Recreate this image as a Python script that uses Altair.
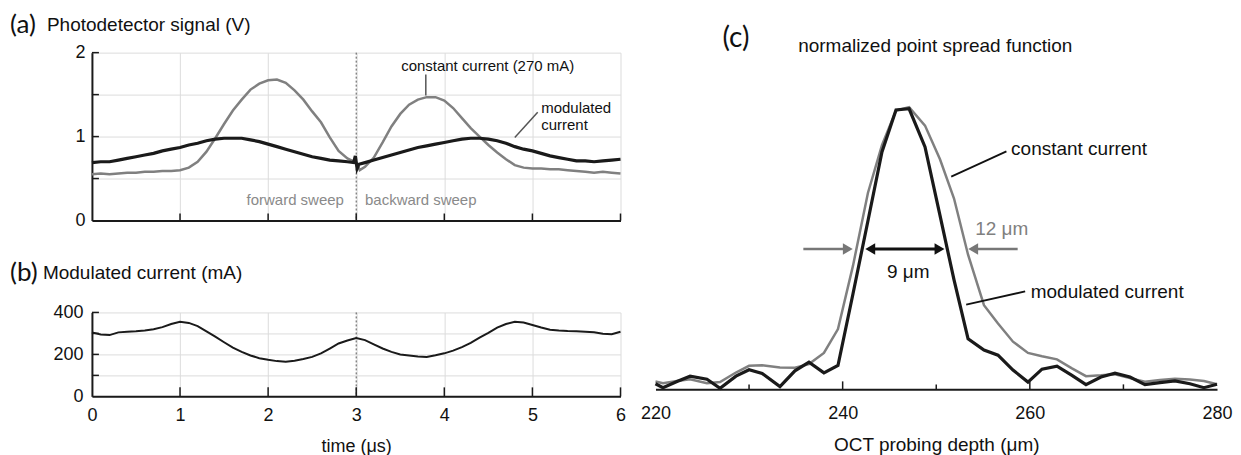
import altair as alt
import pandas as pd

FONT = "Liberation Sans"
PFONT = "Lato"

# ---------------- Panel (a): photodetector signal (V) ----------------
time_const = [0.0, 0.1, 0.2, 0.3, 0.4, 0.5, 0.6, 0.7, 0.8, 0.9, 1.0, 1.1, 1.2, 1.3, 1.4, 1.5,
              1.6, 1.7, 1.8, 1.9, 2.0, 2.1, 2.2, 2.3, 2.4, 2.5, 2.6, 2.7, 2.8, 2.9, 3.0, 3.04,
              3.1, 3.2, 3.3, 3.4, 3.5, 3.6, 3.7, 3.8, 3.9, 4.0, 4.1, 4.2, 4.3, 4.4, 4.5, 4.6,
              4.7, 4.8, 4.9, 5.0, 5.1, 5.2, 5.3, 5.4, 5.5, 5.6, 5.7, 5.8, 5.9, 6.0]
volt_const = [0.55, 0.56, 0.55, 0.56, 0.57, 0.57, 0.58, 0.58, 0.59, 0.59, 0.60, 0.63, 0.70, 0.82, 0.98, 1.15,
              1.31, 1.44, 1.56, 1.63, 1.67, 1.68, 1.64, 1.55, 1.44, 1.30, 1.17, 0.99, 0.83, 0.74, 0.69, 0.60,
              0.64, 0.75, 0.93, 1.12, 1.27, 1.38, 1.44, 1.47, 1.47, 1.43, 1.34, 1.22, 1.10, 1.00, 0.90, 0.81,
              0.73, 0.66, 0.63, 0.62, 0.62, 0.61, 0.61, 0.60, 0.59, 0.58, 0.57, 0.58, 0.57, 0.56]

time_mod = [0.0, 0.1, 0.2, 0.3, 0.4, 0.5, 0.6, 0.7, 0.8, 0.9, 1.0, 1.1, 1.2, 1.3, 1.4, 1.5,
            1.6, 1.7, 1.8, 1.9, 2.0, 2.1, 2.2, 2.3, 2.4, 2.5, 2.6, 2.7, 2.8, 2.9, 2.97, 2.99,
            3.01, 3.03, 3.1, 3.2, 3.3, 3.4, 3.5, 3.6, 3.7, 3.8, 3.9, 4.0, 4.1, 4.2, 4.3, 4.4,
            4.5, 4.6, 4.7, 4.8, 4.9, 5.0, 5.1, 5.2, 5.3, 5.4, 5.5, 5.6, 5.7, 5.8, 5.9, 6.0]
volt_mod = [0.69, 0.70, 0.70, 0.72, 0.74, 0.76, 0.78, 0.80, 0.83, 0.85, 0.87, 0.90, 0.92, 0.95, 0.97, 0.98,
            0.98, 0.98, 0.96, 0.94, 0.91, 0.88, 0.85, 0.82, 0.79, 0.76, 0.74, 0.72, 0.71, 0.70, 0.69, 0.77,
            0.62, 0.67, 0.69, 0.72, 0.75, 0.78, 0.81, 0.84, 0.87, 0.89, 0.91, 0.93, 0.95, 0.97, 0.98, 0.98,
            0.97, 0.95, 0.92, 0.88, 0.85, 0.83, 0.80, 0.77, 0.75, 0.73, 0.71, 0.71, 0.70, 0.71, 0.72, 0.73]

sweep_text = ["forward sweep", "backward sweep"]
sweep_t = [2.86, 3.1]
sweep_v = [0.25, 0.25]

note_a_text = ["constant current (270 mA)", "modulated", "current"]
note_a_t = [3.51, 5.10, 5.10]
note_a_v = [1.845, 1.345, 1.14]
lead_a_t = [3.79, 5.06]
lead_a_v = [1.74, 1.29]
lead_a_t2 = [3.79, 4.80]
lead_a_v2 = [1.49, 0.99]

# ---------------- Panel (b): modulated current (mA) ----------------
time_b = [0.0, 0.1, 0.2, 0.3, 0.4, 0.5, 0.6, 0.7, 0.8, 0.9, 1.0, 1.1, 1.2, 1.3, 1.4, 1.5,
          1.6, 1.7, 1.8, 1.9, 2.0, 2.1, 2.2, 2.3, 2.4, 2.5, 2.6, 2.7, 2.8, 2.9, 3.0, 3.1,
          3.2, 3.3, 3.4, 3.5, 3.6, 3.7, 3.8, 3.9, 4.0, 4.1, 4.2, 4.3, 4.4, 4.5, 4.6, 4.7,
          4.8, 4.9, 5.0, 5.1, 5.2, 5.3, 5.4, 5.5, 5.6, 5.7, 5.8, 5.9, 6.0]
current_b = [305, 295, 292, 305, 308, 310, 314, 320, 330, 345, 355, 350, 335, 310, 285, 258,
             232, 212, 195, 182, 174, 168, 165, 170, 178, 188, 205, 228, 252, 266, 278, 268,
             248, 228, 212, 200, 195, 190, 188, 196, 205, 218, 235, 255, 280, 303, 328, 345,
             356, 352, 340, 328, 318, 314, 311, 310, 308, 305, 298, 296, 308]

# ---------------- Panel (c): normalized point spread function ----------------
depth = [220.0, 220.8, 222.3, 223.7, 225.5, 226.9, 228.6, 230.0, 231.4, 233.3, 234.9, 236.4, 238.0, 239.5,
         241.1, 242.7, 244.2, 245.7, 247.1, 248.8, 250.4, 251.9, 253.4, 255.1, 256.6, 258.2, 259.8, 261.3,
         262.9, 264.5, 266.0, 267.6, 269.1, 270.7, 272.3, 273.9, 275.5, 277.1, 278.6, 280.0]
psf_const = [0.028, 0.022, 0.030, 0.036, 0.022, 0.026, 0.060, 0.084, 0.086, 0.078, 0.077, 0.090, 0.130, 0.215,
             0.44, 0.70, 0.87, 0.994, 1.006, 0.94, 0.82, 0.68, 0.48, 0.30, 0.235, 0.17, 0.13, 0.118,
             0.107, 0.075, 0.047, 0.050, 0.054, 0.040, 0.027, 0.033, 0.038, 0.035, 0.030, 0.018]
psf_mod = [0.020, 0.006, 0.028, 0.047, 0.036, 0.004, 0.047, 0.070, 0.057, 0.010, 0.066, 0.097, 0.059, 0.085,
           0.34, 0.60, 0.846, 0.996, 1.0, 0.864, 0.62, 0.39, 0.18, 0.140, 0.122, 0.069, 0.026, 0.072,
           0.083, 0.050, 0.017, 0.044, 0.058, 0.044, 0.017, 0.024, 0.030, 0.020, 0.006, 0.018]

fwhm_level = 0.50
gray_arrow_from = [235.8, 258.7]
gray_arrow_to = [240.5, 254.0]
gray_head_right = [240.55]
gray_head_left = [253.95]
black_arrow = [242.9, 250.4]
black_head_left = [242.95]
black_head_right = [250.35]

note_c_text = ["constant current", "modulated current"]
note_c_d = [258.0, 260.1]
note_c_p = [0.857, 0.346]
lead_c_d = [251.6, 253.2]
lead_c_p = [0.758, 0.302]
lead_c_d2 = [257.5, 259.5]
lead_c_p2 = [0.848, 0.349]

W_AB, H_A, H_B = 529, 168, 84
W_C, H_C = 562, 337

DARK = "#1a1a1a"
GRAY = "#808080"
TAG_SIZE = 26

# ---------- panel a ----------
x_a = alt.X("t:Q", scale=alt.Scale(domain=[0, 6], nice=False),
            axis=alt.Axis(values=[0, 1, 2, 3, 4, 5, 6], grid=True, labels=False, ticks=False, title=None))
y_a = alt.Y("v:Q", scale=alt.Scale(domain=[0, 2], nice=False),
            axis=alt.Axis(values=[0, 0.5, 1, 1.5, 2], grid=True, ticks=False, title=None, format=".0f",
                          labelExpr="datum.value % 1 == 0 ? datum.label : ''", labelPadding=7))

a_const = alt.Chart(pd.DataFrame({"t": time_const, "v": volt_const})).mark_line(
    color=GRAY, strokeWidth=2.5).encode(x=x_a, y=y_a)
a_mod = alt.Chart(pd.DataFrame({"t": time_mod, "v": volt_mod})).mark_line(
    color=DARK, strokeWidth=3.2).encode(x=x_a, y=y_a)
a_sep = alt.Chart(pd.DataFrame({"t": [3]})).mark_rule(
    color="#555", strokeWidth=1, strokeDash=[2, 2]).encode(x=x_a)
a_xt = alt.Chart(pd.DataFrame({"t": [1, 2, 3, 4, 5, 6]})).mark_rule(
    color=DARK, strokeWidth=1.5).encode(x=x_a, y=alt.value(H_A), y2=alt.value(H_A - 7))
a_yt = alt.Chart(pd.DataFrame({"v": [0.5, 1, 1.5, 2]})).mark_rule(
    color=DARK, strokeWidth=1.5).encode(y=y_a, x=alt.value(0), x2=alt.value(7))
a_sw1 = alt.Chart(pd.DataFrame({"t": sweep_t[:1], "v": sweep_v[:1], "label": sweep_text[:1]})).mark_text(
    align="right", baseline="middle", font=FONT, fontSize=15, color="#8a8a8a").encode(x=x_a, y=y_a, text="label:N")
a_sw2 = alt.Chart(pd.DataFrame({"t": sweep_t[1:], "v": sweep_v[1:], "label": sweep_text[1:]})).mark_text(
    align="left", baseline="middle", font=FONT, fontSize=15, color="#8a8a8a").encode(x=x_a, y=y_a, text="label:N")
a_note = alt.Chart(pd.DataFrame({"t": note_a_t, "v": note_a_v, "label": note_a_text})).mark_text(
    align="left", baseline="middle", font=FONT, fontSize=15, color="#111").encode(x=x_a, y=y_a, text="label:N")
a_lead = alt.Chart(pd.DataFrame({"t": lead_a_t, "v": lead_a_v, "t2": lead_a_t2, "v2": lead_a_v2})).mark_rule(
    color="#555", strokeWidth=1.5).encode(x=x_a, y=y_a, x2="t2:Q", y2="v2:Q")
a_tag = alt.Chart(pd.DataFrame({"label": ["(a)"]})).mark_text(
    align="left", baseline="middle", font=PFONT, fontSize=TAG_SIZE, color="#111").encode(
    x=alt.value(-82), y=alt.value(-28), text="label:N")
a_title = alt.Chart(pd.DataFrame({"label": ["Photodetector signal (V)"]})).mark_text(
    align="left", baseline="middle", font=FONT, fontSize=19, color="#111").encode(
    x=alt.value(-45), y=alt.value(-28), text="label:N")

panel_a = alt.layer(a_sep, a_const, a_mod, a_xt, a_yt, a_sw1, a_sw2, a_note, a_lead, a_tag, a_title).properties(
    width=W_AB, height=H_A)

# ---------- panel b ----------
x_b = alt.X("t:Q", scale=alt.Scale(domain=[0, 6], nice=False),
            axis=alt.Axis(values=[0, 1, 2, 3, 4, 5, 6], grid=True, ticks=False, title="time (μs)",
                          labelFlush=False, labelPadding=10, titlePadding=13))
y_b = alt.Y("v:Q", scale=alt.Scale(domain=[0, 400], nice=False),
            axis=alt.Axis(values=[0, 100, 200, 300, 400], grid=True, ticks=False, title=None,
                          labelExpr="datum.value % 200 == 0 ? datum.label : ''", labelPadding=9))

b_line = alt.Chart(pd.DataFrame({"t": time_b, "v": current_b})).mark_line(
    color=DARK, strokeWidth=2).encode(x=x_b, y=y_b)
b_sep = alt.Chart(pd.DataFrame({"t": [3]})).mark_rule(
    color="#555", strokeWidth=1, strokeDash=[2, 2]).encode(x=x_b)
b_xt = alt.Chart(pd.DataFrame({"t": [1, 2, 3, 4, 5, 6]})).mark_rule(
    color=DARK, strokeWidth=1.5).encode(x=x_b, y=alt.value(H_B), y2=alt.value(H_B - 9))
b_yt = alt.Chart(pd.DataFrame({"v": [100, 200, 300, 400]})).mark_rule(
    color=DARK, strokeWidth=1.5).encode(y=y_b, x=alt.value(0), x2=alt.value(7))
b_tag = alt.Chart(pd.DataFrame({"label": ["(b)"]})).mark_text(
    align="left", baseline="middle", font=PFONT, fontSize=TAG_SIZE, color="#111").encode(
    x=alt.value(-82), y=alt.value(-39), text="label:N")
b_title = alt.Chart(pd.DataFrame({"label": ["Modulated current (mA)"]})).mark_text(
    align="left", baseline="middle", font=FONT, fontSize=19, color="#111").encode(
    x=alt.value(-49), y=alt.value(-39), text="label:N")

panel_b = alt.layer(b_sep, b_line, b_xt, b_yt, b_tag, b_title).properties(width=W_AB, height=H_B)

# ---------- panel c ----------
x_c = alt.X("d:Q", scale=alt.Scale(domain=[220, 280], nice=False),
            axis=alt.Axis(values=[220, 240, 260, 280], grid=False, ticks=False, labelFlush=False,
                          title="OCT probing depth (μm)", titleFontSize=19, labelPadding=15, titlePadding=13))
y_c = alt.Y("p:Q", scale=alt.Scale(domain=[0, 1.2], nice=False), axis=None)

c_const = alt.Chart(pd.DataFrame({"d": depth, "p": psf_const})).mark_line(
    color=GRAY, strokeWidth=2.5).encode(x=x_c, y=y_c)
c_mod = alt.Chart(pd.DataFrame({"d": depth, "p": psf_mod})).mark_line(
    color=DARK, strokeWidth=3.2).encode(x=x_c, y=y_c)
c_xt_major = alt.Chart(pd.DataFrame({"d": [240, 260]})).mark_rule(
    color=DARK, strokeWidth=1.5).encode(x=x_c, y=alt.value(H_C), y2=alt.value(H_C - 8))
c_xt_minor = alt.Chart(pd.DataFrame({"d": [230, 250, 270]})).mark_rule(
    color=DARK, strokeWidth=1.5).encode(x=x_c, y=alt.value(H_C), y2=alt.value(H_C - 5))
c_gshaft = alt.Chart(pd.DataFrame({"d": gray_arrow_from, "d2": gray_arrow_to,
                                   "p": [fwhm_level] * 2})).mark_rule(
    color="#777", strokeWidth=2.5).encode(x=x_c, x2="d2:Q", y=y_c)
c_ghead_r = alt.Chart(pd.DataFrame({"d": gray_head_right, "p": [fwhm_level]})).mark_point(
    shape="triangle-right", filled=True, size=130, color="#777", opacity=1).encode(x=x_c, y=y_c)
c_ghead_l = alt.Chart(pd.DataFrame({"d": gray_head_left, "p": [fwhm_level]})).mark_point(
    shape="triangle-left", filled=True, size=130, color="#777", opacity=1).encode(x=x_c, y=y_c)
c_bshaft = alt.Chart(pd.DataFrame({"d": [black_arrow[0]], "d2": [black_arrow[1]],
                                   "p": [fwhm_level]})).mark_rule(
    color="#111", strokeWidth=3).encode(x=x_c, x2="d2:Q", y=y_c)
c_bhead_l = alt.Chart(pd.DataFrame({"d": black_head_left, "p": [fwhm_level]})).mark_point(
    shape="triangle-left", filled=True, size=130, color="#111", opacity=1).encode(x=x_c, y=y_c)
c_bhead_r = alt.Chart(pd.DataFrame({"d": black_head_right, "p": [fwhm_level]})).mark_point(
    shape="triangle-right", filled=True, size=130, color="#111", opacity=1).encode(x=x_c, y=y_c)
c_9 = alt.Chart(pd.DataFrame({"d": [247.0], "p": [0.42], "label": ["9 μm"]})).mark_text(
    align="center", baseline="middle", font=FONT, fontSize=19, color="#111").encode(x=x_c, y=y_c, text="label:N")
c_12 = alt.Chart(pd.DataFrame({"d": [257.0], "p": [0.573], "label": ["12 μm"]})).mark_text(
    align="center", baseline="middle", font=FONT, fontSize=19, color="#808080").encode(x=x_c, y=y_c, text="label:N")
c_note = alt.Chart(pd.DataFrame({"d": note_c_d, "p": note_c_p, "label": note_c_text})).mark_text(
    align="left", baseline="middle", font=FONT, fontSize=19, color="#111").encode(x=x_c, y=y_c, text="label:N")
c_lead = alt.Chart(pd.DataFrame({"d": lead_c_d, "p": lead_c_p, "d2": lead_c_d2, "p2": lead_c_p2})).mark_rule(
    color="#111", strokeWidth=1.8).encode(x=x_c, y=y_c, x2="d2:Q", y2="p2:Q")
c_tag = alt.Chart(pd.DataFrame({"label": ["(c)"]})).mark_text(
    align="left", baseline="middle", font=PFONT, fontSize=28, color="#111").encode(
    x=alt.value(67), y=alt.value(-14), text="label:N")
# transparent twin of the "(a)" tag so both columns share the same top edge
c_align = alt.Chart(pd.DataFrame({"label": ["(a)"]})).mark_text(
    align="left", baseline="middle", font=PFONT, fontSize=TAG_SIZE, opacity=0).encode(
    x=alt.value(67), y=alt.value(-28), text="label:N")
c_title = alt.Chart(pd.DataFrame({"label": ["normalized point spread function"]})).mark_text(
    align="center", baseline="middle", font=FONT, fontSize=19, color="#111").encode(
    x=alt.value(280), y=alt.value(-7), text="label:N")

panel_c = alt.layer(c_const, c_mod, c_xt_major, c_xt_minor, c_gshaft, c_ghead_r, c_ghead_l,
                    c_bshaft, c_bhead_l, c_bhead_r, c_9, c_12, c_note, c_lead, c_tag, c_align,
                    c_title).properties(width=W_C, height=H_C)

left = alt.vconcat(panel_a, panel_b, spacing=92, bounds="flush")
chart = alt.hconcat(left, panel_c, spacing=12).properties(
    padding={"left": 2, "top": 3.5, "right": 0, "bottom": 0}
).configure_view(stroke=None).configure_axis(
    labelFont=FONT, titleFont=FONT, labelColor="#111", titleColor="#111",
    labelFontSize=18, titleFontSize=18, titleFontWeight="normal",
    domainColor=DARK, domainWidth=2, gridColor="#dcdcdc", gridWidth=1
)

chart.save("out.html", embed_options={"renderer": "svg", "actions": False})
